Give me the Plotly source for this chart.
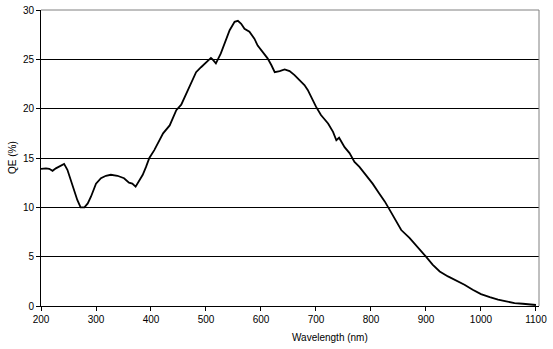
import plotly.graph_objects as go

wavelength = [200, 209, 215, 221, 227, 236, 242, 248, 254, 260,
              266, 272, 279, 285, 291, 300, 309, 318, 327, 339,
              351, 360, 366, 372, 379, 385, 391, 397, 406, 422,
              434, 446, 455, 464, 473, 482, 491, 500, 509, 512,
              518, 527, 534, 543, 552, 558, 564, 570, 579, 588,
              594, 603, 612, 619, 625, 634, 643, 652, 661, 670,
              679, 685, 691, 700, 709, 722, 731, 737, 742, 752,
              761, 770, 779, 791, 803, 815, 825, 834, 843, 855,
              870, 885, 900, 912, 925, 940, 955, 970, 985, 1000,
              1016, 1031, 1046, 1061, 1076, 1092, 1100]
qe = [13.9, 13.95, 13.9, 13.7, 13.95, 14.2, 14.4, 13.8, 12.8, 11.8,
      10.75, 10.0, 10.0, 10.4, 11.1, 12.4, 12.95, 13.2, 13.3, 13.2,
      12.95, 12.5, 12.4, 12.1, 12.8, 13.3, 14.1, 15.0, 15.8, 17.5,
      18.3, 19.85, 20.4, 21.5, 22.7, 23.7, 24.2, 24.7, 25.15, 25.0,
      24.6, 25.6, 26.6, 27.95, 28.8, 28.9, 28.6, 28.1, 27.8, 27.1,
      26.4, 25.75, 25.1, 24.4, 23.7, 23.8, 23.97, 23.8, 23.4, 22.9,
      22.4, 21.9, 21.2, 20.2, 19.35, 18.5, 17.65, 16.8, 17.05, 16.1,
      15.5, 14.6, 14.1, 13.3, 12.4, 11.4, 10.6, 9.74, 8.8, 7.7,
      6.9, 6.0, 5.0, 4.2, 3.5, 3.0, 2.6, 2.15, 1.65, 1.2,
      0.9, 0.64, 0.47, 0.3, 0.23, 0.16, 0.1]
x_ticks = [200, 300, 400, 500, 600, 700, 800, 900, 1000, 1100]
y_ticks = [0, 5, 10, 15, 20, 25, 30]

font = dict(family="Arial, Liberation Sans, sans-serif", size=10, color="black")

fig = go.Figure()
fig.add_trace(go.Scatter(x=wavelength, y=qe, mode="lines",
                         line=dict(color="black", width=1.8), showlegend=False))

fig.update_layout(
    width=553, height=349,
    margin=dict(l=41, r=14, t=10, b=43, autoexpand=False),
    paper_bgcolor="white", plot_bgcolor="white",
    font=font,
    xaxis=dict(range=[200, 1105.5], tickvals=x_ticks, ticks="outside", ticklen=4,
               tickcolor="black", showline=True, linecolor="black", linewidth=1,
               showgrid=False, zeroline=False, tickfont=font, automargin=False),
    yaxis=dict(range=[0, 30], tickvals=y_ticks, ticks="outside", ticklen=4,
               tickcolor="black", showline=True, linecolor="black", linewidth=1,
               showgrid=True, gridcolor="black", gridwidth=1, zeroline=False,
               tickfont=font, automargin=False),
    shapes=[
        dict(type="line", xref="paper", yref="paper", x0=0, x1=1, y0=1, y1=1,
             line=dict(color="#808080", width=1), layer="above"),
        dict(type="line", xref="paper", yref="paper", x0=1, x1=1, y0=0, y1=1,
             line=dict(color="#808080", width=1), layer="above"),
    ],
    annotations=[
        dict(text="Wavelength (nm)", xref="paper", yref="paper", x=0.58, y=0,
             yshift=-31, showarrow=False, xanchor="center", yanchor="middle", font=font),
        dict(text="QE (%)", xref="paper", yref="paper", x=0, y=0.5, xshift=-29,
             showarrow=False, textangle=-90, xanchor="center", yanchor="middle", font=font),
    ],
)

fig.write_html("out.html", config={"displayModeBar": False},
               post_script="document.body.style.margin='0';document.body.style.overflow='hidden';")
